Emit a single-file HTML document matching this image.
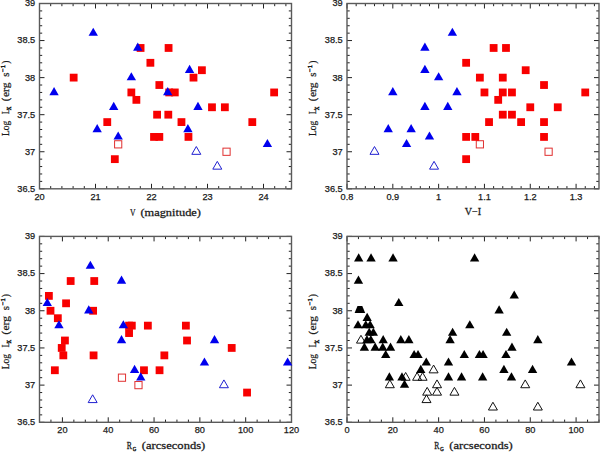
<!DOCTYPE html>
<html><head><meta charset="utf-8"><style>
html,body{margin:0;padding:0;background:#fff;width:600px;height:452px;overflow:hidden}
svg{display:block}
.n{font-family:"Liberation Sans",sans-serif;font-size:9.2px;fill:#1a1a1a;stroke:#1a1a1a;stroke-width:0.25px}
.l{font-family:"Liberation Serif",serif;fill:#1a1a1a;stroke:#1a1a1a;stroke-width:0.25px}
.s{stroke-width:0.5px}
</style></head><body>
<svg width="600" height="452" viewBox="0 0 600 452">
<rect width="600" height="452" fill="#fff"/>
<path d="M39.5 188.8h5M291.5 188.8h-5M39.5 181.39h2.7M291.5 181.39h-2.7M39.5 173.98h2.7M291.5 173.98h-2.7M39.5 166.56h2.7M291.5 166.56h-2.7M39.5 159.15h2.7M291.5 159.15h-2.7M39.5 151.74h5M291.5 151.74h-5M39.5 144.33h2.7M291.5 144.33h-2.7M39.5 136.92h2.7M291.5 136.92h-2.7M39.5 129.5h2.7M291.5 129.5h-2.7M39.5 122.09h2.7M291.5 122.09h-2.7M39.5 114.68h5M291.5 114.68h-5M39.5 107.27h2.7M291.5 107.27h-2.7M39.5 99.86h2.7M291.5 99.86h-2.7M39.5 92.44h2.7M291.5 92.44h-2.7M39.5 85.03h2.7M291.5 85.03h-2.7M39.5 77.62h5M291.5 77.62h-5M39.5 70.21h2.7M291.5 70.21h-2.7M39.5 62.8h2.7M291.5 62.8h-2.7M39.5 55.38h2.7M291.5 55.38h-2.7M39.5 47.97h2.7M291.5 47.97h-2.7M39.5 40.56h5M291.5 40.56h-5M39.5 33.15h2.7M291.5 33.15h-2.7M39.5 25.74h2.7M291.5 25.74h-2.7M39.5 18.32h2.7M291.5 18.32h-2.7M39.5 10.91h2.7M291.5 10.91h-2.7M39.5 3.5h5M291.5 3.5h-5M39.5 188.8v-5M39.5 3.5v5M50.7 188.8v-2.7M50.7 3.5v2.7M61.9 188.8v-2.7M61.9 3.5v2.7M73.1 188.8v-2.7M73.1 3.5v2.7M84.3 188.8v-2.7M84.3 3.5v2.7M95.5 188.8v-5M95.5 3.5v5M106.7 188.8v-2.7M106.7 3.5v2.7M117.9 188.8v-2.7M117.9 3.5v2.7M129.1 188.8v-2.7M129.1 3.5v2.7M140.3 188.8v-2.7M140.3 3.5v2.7M151.5 188.8v-5M151.5 3.5v5M162.7 188.8v-2.7M162.7 3.5v2.7M173.9 188.8v-2.7M173.9 3.5v2.7M185.1 188.8v-2.7M185.1 3.5v2.7M196.3 188.8v-2.7M196.3 3.5v2.7M207.5 188.8v-5M207.5 3.5v5M218.7 188.8v-2.7M218.7 3.5v2.7M229.9 188.8v-2.7M229.9 3.5v2.7M241.1 188.8v-2.7M241.1 3.5v2.7M252.3 188.8v-2.7M252.3 3.5v2.7M263.5 188.8v-5M263.5 3.5v5M274.7 188.8v-2.7M274.7 3.5v2.7M285.9 188.8v-2.7M285.9 3.5v2.7" stroke="#222" stroke-width="1.0" fill="none"/>
<rect x="39.5" y="3.5" width="252" height="185.3" fill="none" stroke="#5a5a5a" stroke-width="1.4"/>
<text class="n" x="35.2" y="191.7" text-anchor="end">36.5</text>
<text class="n" x="35.2" y="154.64" text-anchor="end">37</text>
<text class="n" x="35.2" y="117.58" text-anchor="end">37.5</text>
<text class="n" x="35.2" y="80.52" text-anchor="end">38</text>
<text class="n" x="35.2" y="43.46" text-anchor="end">38.5</text>
<text class="n" x="35.2" y="6.4" text-anchor="end">39</text>
<text class="n" x="39.5" y="199.7" text-anchor="middle">20</text>
<text class="n" x="95.5" y="199.7" text-anchor="middle">21</text>
<text class="n" x="151.5" y="199.7" text-anchor="middle">22</text>
<text class="n" x="207.5" y="199.7" text-anchor="middle">23</text>
<text class="n" x="263.5" y="199.7" text-anchor="middle">24</text>
<path d="M347 188.8h5M599 188.8h-5M347 181.39h2.7M599 181.39h-2.7M347 173.98h2.7M599 173.98h-2.7M347 166.56h2.7M599 166.56h-2.7M347 159.15h2.7M599 159.15h-2.7M347 151.74h5M599 151.74h-5M347 144.33h2.7M599 144.33h-2.7M347 136.92h2.7M599 136.92h-2.7M347 129.5h2.7M599 129.5h-2.7M347 122.09h2.7M599 122.09h-2.7M347 114.68h5M599 114.68h-5M347 107.27h2.7M599 107.27h-2.7M347 99.86h2.7M599 99.86h-2.7M347 92.44h2.7M599 92.44h-2.7M347 85.03h2.7M599 85.03h-2.7M347 77.62h5M599 77.62h-5M347 70.21h2.7M599 70.21h-2.7M347 62.8h2.7M599 62.8h-2.7M347 55.38h2.7M599 55.38h-2.7M347 47.97h2.7M599 47.97h-2.7M347 40.56h5M599 40.56h-5M347 33.15h2.7M599 33.15h-2.7M347 25.74h2.7M599 25.74h-2.7M347 18.32h2.7M599 18.32h-2.7M347 10.91h2.7M599 10.91h-2.7M347 3.5h5M599 3.5h-5M347 188.8v-5M347 3.5v5M356.16 188.8v-2.7M356.16 3.5v2.7M365.33 188.8v-2.7M365.33 3.5v2.7M374.49 188.8v-2.7M374.49 3.5v2.7M383.65 188.8v-2.7M383.65 3.5v2.7M392.82 188.8v-5M392.82 3.5v5M401.98 188.8v-2.7M401.98 3.5v2.7M411.15 188.8v-2.7M411.15 3.5v2.7M420.31 188.8v-2.7M420.31 3.5v2.7M429.47 188.8v-2.7M429.47 3.5v2.7M438.64 188.8v-5M438.64 3.5v5M447.8 188.8v-2.7M447.8 3.5v2.7M456.96 188.8v-2.7M456.96 3.5v2.7M466.13 188.8v-2.7M466.13 3.5v2.7M475.29 188.8v-2.7M475.29 3.5v2.7M484.45 188.8v-5M484.45 3.5v5M493.62 188.8v-2.7M493.62 3.5v2.7M502.78 188.8v-2.7M502.78 3.5v2.7M511.95 188.8v-2.7M511.95 3.5v2.7M521.11 188.8v-2.7M521.11 3.5v2.7M530.27 188.8v-5M530.27 3.5v5M539.44 188.8v-2.7M539.44 3.5v2.7M548.6 188.8v-2.7M548.6 3.5v2.7M557.76 188.8v-2.7M557.76 3.5v2.7M566.93 188.8v-2.7M566.93 3.5v2.7M576.09 188.8v-5M576.09 3.5v5M585.25 188.8v-2.7M585.25 3.5v2.7M594.42 188.8v-2.7M594.42 3.5v2.7" stroke="#222" stroke-width="1.0" fill="none"/>
<rect x="347" y="3.5" width="252" height="185.3" fill="none" stroke="#5a5a5a" stroke-width="1.4"/>
<text class="n" x="342.7" y="191.7" text-anchor="end">36.5</text>
<text class="n" x="342.7" y="154.64" text-anchor="end">37</text>
<text class="n" x="342.7" y="117.58" text-anchor="end">37.5</text>
<text class="n" x="342.7" y="80.52" text-anchor="end">38</text>
<text class="n" x="342.7" y="43.46" text-anchor="end">38.5</text>
<text class="n" x="342.7" y="6.4" text-anchor="end">39</text>
<text class="n" x="347" y="199.7" text-anchor="middle">0.8</text>
<text class="n" x="392.82" y="199.7" text-anchor="middle">0.9</text>
<text class="n" x="438.64" y="199.7" text-anchor="middle">1</text>
<text class="n" x="484.45" y="199.7" text-anchor="middle">1.1</text>
<text class="n" x="530.27" y="199.7" text-anchor="middle">1.2</text>
<text class="n" x="576.09" y="199.7" text-anchor="middle">1.3</text>
<path d="M39.5 422.3h5M291.5 422.3h-5M39.5 414.86h2.7M291.5 414.86h-2.7M39.5 407.43h2.7M291.5 407.43h-2.7M39.5 399.99h2.7M291.5 399.99h-2.7M39.5 392.56h2.7M291.5 392.56h-2.7M39.5 385.12h5M291.5 385.12h-5M39.5 377.68h2.7M291.5 377.68h-2.7M39.5 370.25h2.7M291.5 370.25h-2.7M39.5 362.81h2.7M291.5 362.81h-2.7M39.5 355.38h2.7M291.5 355.38h-2.7M39.5 347.94h5M291.5 347.94h-5M39.5 340.5h2.7M291.5 340.5h-2.7M39.5 333.07h2.7M291.5 333.07h-2.7M39.5 325.63h2.7M291.5 325.63h-2.7M39.5 318.2h2.7M291.5 318.2h-2.7M39.5 310.76h5M291.5 310.76h-5M39.5 303.32h2.7M291.5 303.32h-2.7M39.5 295.89h2.7M291.5 295.89h-2.7M39.5 288.45h2.7M291.5 288.45h-2.7M39.5 281.02h2.7M291.5 281.02h-2.7M39.5 273.58h5M291.5 273.58h-5M39.5 266.14h2.7M291.5 266.14h-2.7M39.5 258.71h2.7M291.5 258.71h-2.7M39.5 251.27h2.7M291.5 251.27h-2.7M39.5 243.84h2.7M291.5 243.84h-2.7M39.5 236.4h5M291.5 236.4h-5M39.5 422.3v-2.7M39.5 236.4v2.7M50.95 422.3v-2.7M50.95 236.4v2.7M62.41 422.3v-5M62.41 236.4v5M73.86 422.3v-2.7M73.86 236.4v2.7M85.32 422.3v-2.7M85.32 236.4v2.7M96.77 422.3v-2.7M96.77 236.4v2.7M108.23 422.3v-5M108.23 236.4v5M119.68 422.3v-2.7M119.68 236.4v2.7M131.14 422.3v-2.7M131.14 236.4v2.7M142.59 422.3v-2.7M142.59 236.4v2.7M154.05 422.3v-5M154.05 236.4v5M165.5 422.3v-2.7M165.5 236.4v2.7M176.95 422.3v-2.7M176.95 236.4v2.7M188.41 422.3v-2.7M188.41 236.4v2.7M199.86 422.3v-5M199.86 236.4v5M211.32 422.3v-2.7M211.32 236.4v2.7M222.77 422.3v-2.7M222.77 236.4v2.7M234.23 422.3v-2.7M234.23 236.4v2.7M245.68 422.3v-5M245.68 236.4v5M257.14 422.3v-2.7M257.14 236.4v2.7M268.59 422.3v-2.7M268.59 236.4v2.7M280.05 422.3v-2.7M280.05 236.4v2.7M291.5 422.3v-5M291.5 236.4v5" stroke="#222" stroke-width="1.0" fill="none"/>
<rect x="39.5" y="236.4" width="252" height="185.9" fill="none" stroke="#5a5a5a" stroke-width="1.4"/>
<text class="n" x="35.2" y="425.2" text-anchor="end">36.5</text>
<text class="n" x="35.2" y="388.02" text-anchor="end">37</text>
<text class="n" x="35.2" y="350.84" text-anchor="end">37.5</text>
<text class="n" x="35.2" y="313.66" text-anchor="end">38</text>
<text class="n" x="35.2" y="276.48" text-anchor="end">38.5</text>
<text class="n" x="35.2" y="239.3" text-anchor="end">39</text>
<text class="n" x="62.41" y="433.2" text-anchor="middle">20</text>
<text class="n" x="108.23" y="433.2" text-anchor="middle">40</text>
<text class="n" x="154.05" y="433.2" text-anchor="middle">60</text>
<text class="n" x="199.86" y="433.2" text-anchor="middle">80</text>
<text class="n" x="245.68" y="433.2" text-anchor="middle">100</text>
<text class="n" x="291.5" y="433.2" text-anchor="middle">120</text>
<path d="M347 422.3h5M599 422.3h-5M347 414.86h2.7M599 414.86h-2.7M347 407.43h2.7M599 407.43h-2.7M347 399.99h2.7M599 399.99h-2.7M347 392.56h2.7M599 392.56h-2.7M347 385.12h5M599 385.12h-5M347 377.68h2.7M599 377.68h-2.7M347 370.25h2.7M599 370.25h-2.7M347 362.81h2.7M599 362.81h-2.7M347 355.38h2.7M599 355.38h-2.7M347 347.94h5M599 347.94h-5M347 340.5h2.7M599 340.5h-2.7M347 333.07h2.7M599 333.07h-2.7M347 325.63h2.7M599 325.63h-2.7M347 318.2h2.7M599 318.2h-2.7M347 310.76h5M599 310.76h-5M347 303.32h2.7M599 303.32h-2.7M347 295.89h2.7M599 295.89h-2.7M347 288.45h2.7M599 288.45h-2.7M347 281.02h2.7M599 281.02h-2.7M347 273.58h5M599 273.58h-5M347 266.14h2.7M599 266.14h-2.7M347 258.71h2.7M599 258.71h-2.7M347 251.27h2.7M599 251.27h-2.7M347 243.84h2.7M599 243.84h-2.7M347 236.4h5M599 236.4h-5M347 422.3v-5M347 236.4v5M358.45 422.3v-2.7M358.45 236.4v2.7M369.91 422.3v-2.7M369.91 236.4v2.7M381.36 422.3v-2.7M381.36 236.4v2.7M392.82 422.3v-5M392.82 236.4v5M404.27 422.3v-2.7M404.27 236.4v2.7M415.73 422.3v-2.7M415.73 236.4v2.7M427.18 422.3v-2.7M427.18 236.4v2.7M438.64 422.3v-5M438.64 236.4v5M450.09 422.3v-2.7M450.09 236.4v2.7M461.55 422.3v-2.7M461.55 236.4v2.7M473 422.3v-2.7M473 236.4v2.7M484.45 422.3v-5M484.45 236.4v5M495.91 422.3v-2.7M495.91 236.4v2.7M507.36 422.3v-2.7M507.36 236.4v2.7M518.82 422.3v-2.7M518.82 236.4v2.7M530.27 422.3v-5M530.27 236.4v5M541.73 422.3v-2.7M541.73 236.4v2.7M553.18 422.3v-2.7M553.18 236.4v2.7M564.64 422.3v-2.7M564.64 236.4v2.7M576.09 422.3v-5M576.09 236.4v5M587.55 422.3v-2.7M587.55 236.4v2.7M599 422.3v-2.7M599 236.4v2.7" stroke="#222" stroke-width="1.0" fill="none"/>
<rect x="347" y="236.4" width="252" height="185.9" fill="none" stroke="#5a5a5a" stroke-width="1.4"/>
<text class="n" x="342.7" y="425.2" text-anchor="end">36.5</text>
<text class="n" x="342.7" y="388.02" text-anchor="end">37</text>
<text class="n" x="342.7" y="350.84" text-anchor="end">37.5</text>
<text class="n" x="342.7" y="313.66" text-anchor="end">38</text>
<text class="n" x="342.7" y="276.48" text-anchor="end">38.5</text>
<text class="n" x="342.7" y="239.3" text-anchor="end">39</text>
<text class="n" x="347" y="433.2" text-anchor="middle">0</text>
<text class="n" x="392.82" y="433.2" text-anchor="middle">20</text>
<text class="n" x="438.64" y="433.2" text-anchor="middle">40</text>
<text class="n" x="484.45" y="433.2" text-anchor="middle">60</text>
<text class="n" x="530.27" y="433.2" text-anchor="middle">80</text>
<text class="n" x="576.09" y="433.2" text-anchor="middle">100</text>
<rect x="114.58" y="140.73" width="7.2" height="7.2" fill="none" stroke="#e03030" stroke-width="1"/>
<rect x="222.94" y="148.14" width="7.2" height="7.2" fill="none" stroke="#e03030" stroke-width="1"/>
<polygon points="196.3,146.54 191.8,154.34 200.8,154.34" fill="none" stroke="#2020d0" stroke-width="1" stroke-linejoin="miter"/>
<polygon points="217.3,161.36 212.8,169.16 221.8,169.16" fill="none" stroke="#2020d0" stroke-width="1" stroke-linejoin="miter"/>
<rect x="69.76" y="73.72" width="7.8" height="7.8" fill="#f80000"/>
<rect x="103.36" y="118.19" width="7.8" height="7.8" fill="#f80000"/>
<rect x="110.92" y="155.25" width="7.8" height="7.8" fill="#f80000"/>
<rect x="127.44" y="88.54" width="7.8" height="7.8" fill="#f80000"/>
<rect x="132.48" y="95.96" width="7.8" height="7.8" fill="#f80000"/>
<rect x="136.68" y="44.07" width="7.8" height="7.8" fill="#f80000"/>
<rect x="146.48" y="58.9" width="7.8" height="7.8" fill="#f80000"/>
<rect x="155.44" y="81.13" width="7.8" height="7.8" fill="#f80000"/>
<rect x="153.2" y="110.78" width="7.8" height="7.8" fill="#f80000"/>
<rect x="150.12" y="133.02" width="7.8" height="7.8" fill="#f80000"/>
<rect x="155.44" y="133.02" width="7.8" height="7.8" fill="#f80000"/>
<rect x="164.68" y="44.07" width="7.8" height="7.8" fill="#f80000"/>
<rect x="164.4" y="110.78" width="7.8" height="7.8" fill="#f80000"/>
<rect x="170.9" y="88.54" width="7.8" height="7.8" fill="#f80000"/>
<rect x="165.3" y="88.54" width="7.8" height="7.8" fill="#f80000"/>
<rect x="177.56" y="118.19" width="7.8" height="7.8" fill="#f80000"/>
<rect x="184.56" y="133.02" width="7.8" height="7.8" fill="#f80000"/>
<rect x="189.6" y="73.72" width="7.8" height="7.8" fill="#f80000"/>
<rect x="198" y="66.31" width="7.8" height="7.8" fill="#f80000"/>
<rect x="208.08" y="103.37" width="7.8" height="7.8" fill="#f80000"/>
<rect x="220.96" y="103.37" width="7.8" height="7.8" fill="#f80000"/>
<rect x="248.4" y="118.19" width="7.8" height="7.8" fill="#f80000"/>
<rect x="270.24" y="88.54" width="7.8" height="7.8" fill="#f80000"/>
<polygon points="54.06,87.04 49.38,95.14 58.74,95.14" fill="#0000ee"/>
<polygon points="93.26,27.75 88.58,35.85 97.94,35.85" fill="#0000ee"/>
<polygon points="97.18,124.1 92.5,132.2 101.86,132.2" fill="#0000ee"/>
<polygon points="113.7,101.87 109.02,109.97 118.38,109.97" fill="#0000ee"/>
<polygon points="118.18,131.52 113.5,139.62 122.86,139.62" fill="#0000ee"/>
<polygon points="131.34,72.22 126.66,80.32 136.02,80.32" fill="#0000ee"/>
<polygon points="137.78,42.57 133.1,50.67 142.46,50.67" fill="#0000ee"/>
<polygon points="167.74,87.04 163.06,95.14 172.42,95.14" fill="#0000ee"/>
<polygon points="187.9,124.1 183.22,132.2 192.58,132.2" fill="#0000ee"/>
<polygon points="189.58,64.81 184.9,72.91 194.26,72.91" fill="#0000ee"/>
<polygon points="197.98,101.87 193.3,109.97 202.66,109.97" fill="#0000ee"/>
<polygon points="267.42,138.93 262.74,147.03 272.1,147.03" fill="#0000ee"/>
<rect x="476.27" y="140.73" width="7.2" height="7.2" fill="none" stroke="#e03030" stroke-width="1"/>
<rect x="545" y="148.14" width="7.2" height="7.2" fill="none" stroke="#e03030" stroke-width="1"/>
<polygon points="374.49,146.54 369.99,154.34 378.99,154.34" fill="none" stroke="#2020d0" stroke-width="1" stroke-linejoin="miter"/>
<polygon points="434.05,161.36 429.55,169.16 438.56,169.16" fill="none" stroke="#2020d0" stroke-width="1" stroke-linejoin="miter"/>
<rect x="462.23" y="58.9" width="7.8" height="7.8" fill="#f80000"/>
<rect x="489.72" y="44.07" width="7.8" height="7.8" fill="#f80000"/>
<rect x="502.09" y="44.07" width="7.8" height="7.8" fill="#f80000"/>
<rect x="521.79" y="66.31" width="7.8" height="7.8" fill="#f80000"/>
<rect x="475.97" y="73.72" width="7.8" height="7.8" fill="#f80000"/>
<rect x="498.88" y="73.72" width="7.8" height="7.8" fill="#f80000"/>
<rect x="540.12" y="81.13" width="7.8" height="7.8" fill="#f80000"/>
<rect x="480.55" y="88.54" width="7.8" height="7.8" fill="#f80000"/>
<rect x="498.88" y="88.54" width="7.8" height="7.8" fill="#f80000"/>
<rect x="508.05" y="88.54" width="7.8" height="7.8" fill="#f80000"/>
<rect x="581.35" y="88.54" width="7.8" height="7.8" fill="#f80000"/>
<rect x="494.3" y="95.96" width="7.8" height="7.8" fill="#f80000"/>
<rect x="526.37" y="103.37" width="7.8" height="7.8" fill="#f80000"/>
<rect x="553.86" y="103.37" width="7.8" height="7.8" fill="#f80000"/>
<rect x="498.88" y="110.78" width="7.8" height="7.8" fill="#f80000"/>
<rect x="508.05" y="110.78" width="7.8" height="7.8" fill="#f80000"/>
<rect x="485.14" y="118.19" width="7.8" height="7.8" fill="#f80000"/>
<rect x="517.21" y="118.19" width="7.8" height="7.8" fill="#f80000"/>
<rect x="540.12" y="118.19" width="7.8" height="7.8" fill="#f80000"/>
<rect x="462.23" y="133.02" width="7.8" height="7.8" fill="#f80000"/>
<rect x="471.39" y="133.02" width="7.8" height="7.8" fill="#f80000"/>
<rect x="540.12" y="133.02" width="7.8" height="7.8" fill="#f80000"/>
<rect x="462.23" y="155.25" width="7.8" height="7.8" fill="#f80000"/>
<polygon points="452.38,27.75 447.71,35.85 457.06,35.85" fill="#0000ee"/>
<polygon points="424.89,42.57 420.21,50.67 429.57,50.67" fill="#0000ee"/>
<polygon points="424.89,64.81 420.21,72.91 429.57,72.91" fill="#0000ee"/>
<polygon points="438.64,72.22 433.96,80.32 443.31,80.32" fill="#0000ee"/>
<polygon points="392.82,87.04 388.14,95.14 397.49,95.14" fill="#0000ee"/>
<polygon points="456.96,87.04 452.29,95.14 461.64,95.14" fill="#0000ee"/>
<polygon points="424.89,101.87 420.21,109.97 429.57,109.97" fill="#0000ee"/>
<polygon points="447.8,101.87 443.12,109.97 452.48,109.97" fill="#0000ee"/>
<polygon points="388.24,124.1 383.56,132.2 392.91,132.2" fill="#0000ee"/>
<polygon points="411.15,124.1 406.47,132.2 415.82,132.2" fill="#0000ee"/>
<polygon points="429.47,131.52 424.8,139.62 434.15,139.62" fill="#0000ee"/>
<polygon points="406.56,138.93 401.89,147.03 411.24,147.03" fill="#0000ee"/>
<rect x="118.37" y="374.08" width="7.2" height="7.2" fill="none" stroke="#e03030" stroke-width="1"/>
<rect x="134.87" y="381.52" width="7.2" height="7.2" fill="none" stroke="#e03030" stroke-width="1"/>
<polygon points="92.65,394.79 88.15,402.59 97.15,402.59" fill="none" stroke="#2020d0" stroke-width="1" stroke-linejoin="miter"/>
<polygon points="223.92,379.92 219.41,387.72 228.42,387.72" fill="none" stroke="#2020d0" stroke-width="1" stroke-linejoin="miter"/>
<rect x="66.76" y="277.12" width="7.8" height="7.8" fill="#f80000"/>
<rect x="90.35" y="277.12" width="7.8" height="7.8" fill="#f80000"/>
<rect x="44.99" y="291.99" width="7.8" height="7.8" fill="#f80000"/>
<rect x="62.17" y="299.42" width="7.8" height="7.8" fill="#f80000"/>
<rect x="46.6" y="306.86" width="7.8" height="7.8" fill="#f80000"/>
<rect x="89.21" y="306.86" width="7.8" height="7.8" fill="#f80000"/>
<rect x="53.93" y="314.3" width="7.8" height="7.8" fill="#f80000"/>
<rect x="127.92" y="321.73" width="7.8" height="7.8" fill="#f80000"/>
<rect x="125.17" y="321.73" width="7.8" height="7.8" fill="#f80000"/>
<rect x="143.96" y="321.73" width="7.8" height="7.8" fill="#f80000"/>
<rect x="125.17" y="329.17" width="7.8" height="7.8" fill="#f80000"/>
<rect x="61.03" y="336.6" width="7.8" height="7.8" fill="#f80000"/>
<rect x="57.82" y="344.04" width="7.8" height="7.8" fill="#f80000"/>
<rect x="59.43" y="351.48" width="7.8" height="7.8" fill="#f80000"/>
<rect x="89.67" y="351.48" width="7.8" height="7.8" fill="#f80000"/>
<rect x="50.95" y="366.35" width="7.8" height="7.8" fill="#f80000"/>
<rect x="140.07" y="366.35" width="7.8" height="7.8" fill="#f80000"/>
<rect x="155.64" y="366.35" width="7.8" height="7.8" fill="#f80000"/>
<rect x="160.45" y="351.48" width="7.8" height="7.8" fill="#f80000"/>
<rect x="181.99" y="321.73" width="7.8" height="7.8" fill="#f80000"/>
<rect x="183.13" y="336.6" width="7.8" height="7.8" fill="#f80000"/>
<rect x="227.81" y="344.04" width="7.8" height="7.8" fill="#f80000"/>
<rect x="243.16" y="388.66" width="7.8" height="7.8" fill="#f80000"/>
<polygon points="90.36,260.74 85.68,268.84 95.03,268.84" fill="#0000ee"/>
<polygon points="121.51,275.62 116.84,283.72 126.19,283.72" fill="#0000ee"/>
<polygon points="47.29,297.92 42.61,306.02 51.97,306.02" fill="#0000ee"/>
<polygon points="88.75,305.36 84.08,313.46 93.43,313.46" fill="#0000ee"/>
<polygon points="58.97,320.23 54.3,328.33 63.65,328.33" fill="#0000ee"/>
<polygon points="123.35,320.23 118.67,328.33 128.02,328.33" fill="#0000ee"/>
<polygon points="121.51,335.1 116.84,343.2 126.19,343.2" fill="#0000ee"/>
<polygon points="134.57,364.85 129.9,372.95 139.25,372.95" fill="#0000ee"/>
<polygon points="140.76,372.28 136.08,380.38 145.43,380.38" fill="#0000ee"/>
<polygon points="214.53,335.1 209.85,343.2 219.2,343.2" fill="#0000ee"/>
<polygon points="204.45,357.41 199.77,365.51 209.12,365.51" fill="#0000ee"/>
<polygon points="287.61,357.41 282.93,365.51 292.28,365.51" fill="#0000ee"/>
<polygon points="360.97,335.3 356.47,343.1 365.48,343.1" fill="none" stroke="#111" stroke-width="1" stroke-linejoin="miter"/>
<polygon points="433.6,365.05 429.09,372.85 438.1,372.85" fill="none" stroke="#111" stroke-width="1" stroke-linejoin="miter"/>
<polygon points="405.65,372.48 401.14,380.28 410.15,380.28" fill="none" stroke="#111" stroke-width="1" stroke-linejoin="miter"/>
<polygon points="417.1,372.48 412.6,380.28 421.61,380.28" fill="none" stroke="#111" stroke-width="1" stroke-linejoin="miter"/>
<polygon points="422.6,372.48 418.1,380.28 427.1,380.28" fill="none" stroke="#111" stroke-width="1" stroke-linejoin="miter"/>
<polygon points="389.84,379.92 385.34,387.72 394.34,387.72" fill="none" stroke="#111" stroke-width="1" stroke-linejoin="miter"/>
<polygon points="437.03,379.92 432.53,387.72 441.54,387.72" fill="none" stroke="#111" stroke-width="1" stroke-linejoin="miter"/>
<polygon points="525.23,379.92 520.73,387.72 529.74,387.72" fill="none" stroke="#111" stroke-width="1" stroke-linejoin="miter"/>
<polygon points="580.44,379.92 575.94,387.72 584.95,387.72" fill="none" stroke="#111" stroke-width="1" stroke-linejoin="miter"/>
<polygon points="427.18,387.36 422.68,395.16 431.69,395.16" fill="none" stroke="#111" stroke-width="1" stroke-linejoin="miter"/>
<polygon points="437.03,387.36 432.53,395.16 441.54,395.16" fill="none" stroke="#111" stroke-width="1" stroke-linejoin="miter"/>
<polygon points="454.44,387.36 449.94,395.16 458.95,395.16" fill="none" stroke="#111" stroke-width="1" stroke-linejoin="miter"/>
<polygon points="426.49,394.79 421.99,402.59 431,402.59" fill="none" stroke="#111" stroke-width="1" stroke-linejoin="miter"/>
<polygon points="492.93,402.23 488.43,410.03 497.43,410.03" fill="none" stroke="#111" stroke-width="1" stroke-linejoin="miter"/>
<polygon points="537.83,402.23 533.33,410.03 542.34,410.03" fill="none" stroke="#111" stroke-width="1" stroke-linejoin="miter"/>
<polygon points="358.68,253.31 354.01,261.41 363.36,261.41" fill="#000"/>
<polygon points="371.05,253.31 366.38,261.41 375.73,261.41" fill="#000"/>
<polygon points="393.05,253.31 388.37,261.41 397.72,261.41" fill="#000"/>
<polygon points="474.6,253.31 469.93,261.41 479.28,261.41" fill="#000"/>
<polygon points="358.45,275.62 353.78,283.72 363.13,283.72" fill="#000"/>
<polygon points="514.24,290.49 509.56,298.59 518.91,298.59" fill="#000"/>
<polygon points="398.77,297.92 394.1,306.02 403.45,306.02" fill="#000"/>
<polygon points="499.12,305.36 494.44,313.46 503.79,313.46" fill="#000"/>
<polygon points="367.16,312.8 362.48,320.9 371.84,320.9" fill="#000"/>
<polygon points="358,320.23 353.32,328.33 362.67,328.33" fill="#000"/>
<polygon points="365.79,320.23 361.11,328.33 370.46,328.33" fill="#000"/>
<polygon points="370.14,320.23 365.46,328.33 374.81,328.33" fill="#000"/>
<polygon points="469.79,320.23 465.12,328.33 474.47,328.33" fill="#000"/>
<polygon points="369.22,327.67 364.55,335.77 373.9,335.77" fill="#000"/>
<polygon points="373.35,327.67 368.67,335.77 378.02,335.77" fill="#000"/>
<polygon points="452.61,327.67 447.93,335.77 457.29,335.77" fill="#000"/>
<polygon points="506.68,327.67 502,335.77 511.35,335.77" fill="#000"/>
<polygon points="366.93,335.1 362.25,343.2 371.61,343.2" fill="#000"/>
<polygon points="370.83,335.1 366.15,343.2 375.5,343.2" fill="#000"/>
<polygon points="383.2,335.1 378.52,343.2 387.87,343.2" fill="#000"/>
<polygon points="400.84,335.1 396.16,343.2 405.51,343.2" fill="#000"/>
<polygon points="408.85,335.1 404.18,343.2 413.53,343.2" fill="#000"/>
<polygon points="450.09,335.1 445.41,343.2 454.77,343.2" fill="#000"/>
<polygon points="537.83,335.1 533.16,343.2 542.51,343.2" fill="#000"/>
<polygon points="364.41,342.54 359.73,350.64 369.09,350.64" fill="#000"/>
<polygon points="375.18,342.54 370.5,350.64 379.85,350.64" fill="#000"/>
<polygon points="382.74,342.54 378.06,350.64 387.41,350.64" fill="#000"/>
<polygon points="390.53,342.54 385.85,350.64 395.2,350.64" fill="#000"/>
<polygon points="511.95,342.54 507.27,350.64 516.62,350.64" fill="#000"/>
<polygon points="385.72,349.98 381.04,358.08 390.39,358.08" fill="#000"/>
<polygon points="414.12,349.98 409.45,358.08 418.8,358.08" fill="#000"/>
<polygon points="418.02,349.98 413.34,358.08 422.69,358.08" fill="#000"/>
<polygon points="464.29,349.98 459.62,358.08 468.97,358.08" fill="#000"/>
<polygon points="479.41,349.98 474.74,358.08 484.09,358.08" fill="#000"/>
<polygon points="483.08,349.98 478.4,358.08 487.76,358.08" fill="#000"/>
<polygon points="505.99,349.98 501.31,358.08 510.67,358.08" fill="#000"/>
<polygon points="426.27,357.41 421.59,365.51 430.94,365.51" fill="#000"/>
<polygon points="448.49,357.41 443.81,365.51 453.16,365.51" fill="#000"/>
<polygon points="571.51,357.41 566.83,365.51 576.19,365.51" fill="#000"/>
<polygon points="420.77,364.85 416.09,372.95 425.44,372.95" fill="#000"/>
<polygon points="503.93,364.85 499.25,372.95 508.6,372.95" fill="#000"/>
<polygon points="532.56,364.85 527.89,372.95 537.24,372.95" fill="#000"/>
<polygon points="389.38,372.28 384.71,380.38 394.06,380.38" fill="#000"/>
<polygon points="401.98,372.28 397.31,380.38 406.66,380.38" fill="#000"/>
<polygon points="448.49,372.28 443.81,380.38 453.16,380.38" fill="#000"/>
<polygon points="461.55,372.28 456.87,380.38 466.22,380.38" fill="#000"/>
<polygon points="482.62,372.28 477.95,380.38 487.3,380.38" fill="#000"/>
<polygon points="511.49,372.28 506.81,380.38 516.16,380.38" fill="#000"/>
<polygon points="404.5,379.72 399.83,387.82 409.18,387.82" fill="#000"/>
<polygon points="357.5,306.1 362.3,306.1 365.2,313.1 354.6,313.1" fill="#000"/>
<text class="l" font-size="10" transform="translate(8.8 135.92) rotate(-90) scale(0.9449 1)">Log</text>
<text class="l" font-size="10" transform="translate(8.8 114.21) rotate(-90) scale(0.8909 1)">L</text>
<text class="l s" font-size="6.5" transform="translate(11.4 110.2) rotate(-90) scale(0.7789 1)">X</text>
<text class="l" font-size="10" transform="translate(8.8 101.2) rotate(-90) scale(1.0545 1)">(</text>
<text class="l" font-size="10" transform="translate(8.8 97.09) rotate(-90) scale(1.1510 1)">erg</text>
<text class="l" font-size="10" transform="translate(8.8 76.87) rotate(-90) scale(1.0667 1)">s</text>
<text class="l s" font-size="6.5" transform="translate(4.5 71.95) rotate(-90) scale(1.0196 1)">−1</text>
<text class="l" font-size="10" transform="translate(8.8 63.84) rotate(-90) scale(0.9455 1)">)</text>
<text class="l" font-size="10" transform="translate(316.3 135.92) rotate(-90) scale(0.9449 1)">Log</text>
<text class="l" font-size="10" transform="translate(316.3 114.21) rotate(-90) scale(0.8909 1)">L</text>
<text class="l s" font-size="6.5" transform="translate(318.9 110.2) rotate(-90) scale(0.7789 1)">X</text>
<text class="l" font-size="10" transform="translate(316.3 101.2) rotate(-90) scale(1.0545 1)">(</text>
<text class="l" font-size="10" transform="translate(316.3 97.09) rotate(-90) scale(1.1510 1)">erg</text>
<text class="l" font-size="10" transform="translate(316.3 76.87) rotate(-90) scale(1.0667 1)">s</text>
<text class="l s" font-size="6.5" transform="translate(312 71.95) rotate(-90) scale(1.0196 1)">−1</text>
<text class="l" font-size="10" transform="translate(316.3 63.84) rotate(-90) scale(0.9455 1)">)</text>
<text class="l" font-size="10" transform="translate(8.8 369.32) rotate(-90) scale(0.9449 1)">Log</text>
<text class="l" font-size="10" transform="translate(8.8 347.61) rotate(-90) scale(0.8909 1)">L</text>
<text class="l s" font-size="6.5" transform="translate(11.4 343.6) rotate(-90) scale(0.7789 1)">X</text>
<text class="l" font-size="10" transform="translate(8.8 334.6) rotate(-90) scale(1.0545 1)">(</text>
<text class="l" font-size="10" transform="translate(8.8 330.49) rotate(-90) scale(1.1510 1)">erg</text>
<text class="l" font-size="10" transform="translate(8.8 310.27) rotate(-90) scale(1.0667 1)">s</text>
<text class="l s" font-size="6.5" transform="translate(4.5 305.35) rotate(-90) scale(1.0196 1)">−1</text>
<text class="l" font-size="10" transform="translate(8.8 297.24) rotate(-90) scale(0.9455 1)">)</text>
<text class="l" font-size="10" transform="translate(316.3 369.32) rotate(-90) scale(0.9449 1)">Log</text>
<text class="l" font-size="10" transform="translate(316.3 347.61) rotate(-90) scale(0.8909 1)">L</text>
<text class="l s" font-size="6.5" transform="translate(318.9 343.6) rotate(-90) scale(0.7789 1)">X</text>
<text class="l" font-size="10" transform="translate(316.3 334.6) rotate(-90) scale(1.0545 1)">(</text>
<text class="l" font-size="10" transform="translate(316.3 330.49) rotate(-90) scale(1.1510 1)">erg</text>
<text class="l" font-size="10" transform="translate(316.3 310.27) rotate(-90) scale(1.0667 1)">s</text>
<text class="l s" font-size="6.5" transform="translate(312 305.35) rotate(-90) scale(1.0196 1)">−1</text>
<text class="l" font-size="10" transform="translate(316.3 297.24) rotate(-90) scale(0.9455 1)">)</text>
<text class="l" font-size="10" transform="translate(130 215.6) scale(0.7724 1)">V</text>
<text class="l" font-size="10" transform="translate(140.44 215.5) scale(1.2384 1)">(magnitude)</text>
<text class="l" font-size="10" transform="translate(464.8 214.5) scale(1.0125 1)">V−I</text>
<text class="l" font-size="10" transform="translate(126.8 448.6) scale(0.7698 1)">R</text>
<text class="l s" font-size="6.5" transform="translate(132.81 451.4) scale(0.7333 1)">G</text>
<text class="l" font-size="10" transform="translate(141.83 448.6) scale(1.2571 1)">(arcseconds)</text>
<text class="l" font-size="10" transform="translate(434.3 448.6) scale(0.7698 1)">R</text>
<text class="l s" font-size="6.5" transform="translate(440.31 451.4) scale(0.7333 1)">G</text>
<text class="l" font-size="10" transform="translate(449.33 448.6) scale(1.2571 1)">(arcseconds)</text>
</svg>
</body></html>
